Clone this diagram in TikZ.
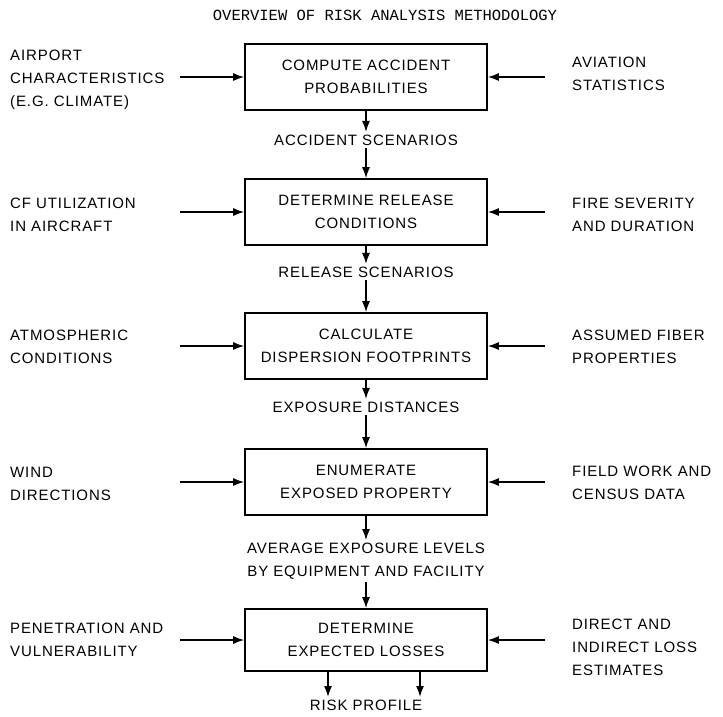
\documentclass[tikz,border=0pt]{standalone}
\usepackage{fontspec}
\setmainfont{Liberation Sans}[LetterSpace=6]
\newfontfamily\typew{Liberation Mono}
\usetikzlibrary{arrows.meta}

\begin{document}
\begin{tikzpicture}[x=1pt, y=-1pt, every node/.style={font=\fontsize{15}{23}\selectfont, inner sep=2.5pt},
	stepbox/.style={draw, line width=1.6pt, minimum width=242pt, minimum height=66pt, align=center},
	side/.style={align=left, anchor=west, inner sep=0pt},
	feed/.style={-{Latex[length=11pt,width=8pt]}, line width=1.5pt}]
	\useasboundingbox (0,0) rectangle (723,716);
	\node[font=\typew\fontsize{15.5}{18}\selectfont] (title) at (385,15) {OVERVIEW OF RISK ANALYSIS METHODOLOGY};
	% main chain
	\node[stepbox] (b1) at (366,77) {COMPUTE ACCIDENT\\PROBABILITIES};
	\node (s1) at (366,140) {ACCIDENT SCENARIOS};
	\node[stepbox] (b2) at (366,212) {DETERMINE RELEASE\\CONDITIONS};
	\node (s2) at (366,272) {RELEASE SCENARIOS};
	\node[stepbox] (b3) at (366,346) {CALCULATE\\DISPERSION FOOTPRINTS};
	\node (s3) at (366,407) {EXPOSURE DISTANCES};
	\node[stepbox] (b4) at (366,482) {ENUMERATE\\EXPOSED PROPERTY};
	\node[align=center] (s4) at (366,561) {AVERAGE EXPOSURE LEVELS\\BY EQUIPMENT AND FACILITY};
	\node[stepbox, minimum height=62pt] (b5) at (366,640) {DETERMINE\\EXPECTED LOSSES};
	\node (risk) at (366,705) {RISK PROFILE};
	% inputs on the left
	\node[side] (w1) at (10,80) {AIRPORT\\CHARACTERISTICS\\(E.G. CLIMATE)};
	\node[side] (w2) at (10,214.5) {CF UTILIZATION\\IN AIRCRAFT};
	\node[side] (w3) at (10,346.5) {ATMOSPHERIC\\CONDITIONS};
	\node[side] (w4) at (10,484) {WIND\\DIRECTIONS};
	\node[side] (w5) at (10,639.5) {PENETRATION AND\\VULNERABILITY};
	% inputs on the right
	\node[side] (e1) at (572,73.5) {AVIATION\\STATISTICS};
	\node[side] (e2) at (572,214.5) {FIRE SEVERITY\\AND DURATION};
	\node[side] (e3) at (572,346.5) {ASSUMED FIBER\\PROPERTIES};
	\node[side] (e4) at (572,482.5) {FIELD WORK AND\\CENSUS DATA};
	\node[side] (e5) at (572,647) {DIRECT AND\\INDIRECT LOSS\\ESTIMATES};
	\foreach \i/\y in {1/77,2/212,3/346,4/482,5/640} {
		\coordinate (wa\i) at (180,\y);
		\coordinate (ea\i) at (545,\y);
		\draw[feed] (wa\i) -- (b\i.west);
		\draw[feed] (ea\i) -- (b\i.east);
	}
	\draw[feed] (b1) -- (s1);
	\draw[feed] (s1) -- (b2);
	\draw[feed] (b2) -- (s2);
	\draw[feed] (s2) -- (b3);
	\draw[feed] (b3) -- (s3);
	\draw[feed] (s3) -- (b4);
	\draw[feed] (b4) -- (s4);
	\draw[feed] (s4) -- (b5);
	\draw[feed] ([xshift=-38pt]b5.south) -- ([xshift=-38pt]b5.south |- risk.north);
	\draw[feed] ([xshift=54pt]b5.south) -- ([xshift=54pt]b5.south |- risk.north);
\end{tikzpicture}
\end{document}
